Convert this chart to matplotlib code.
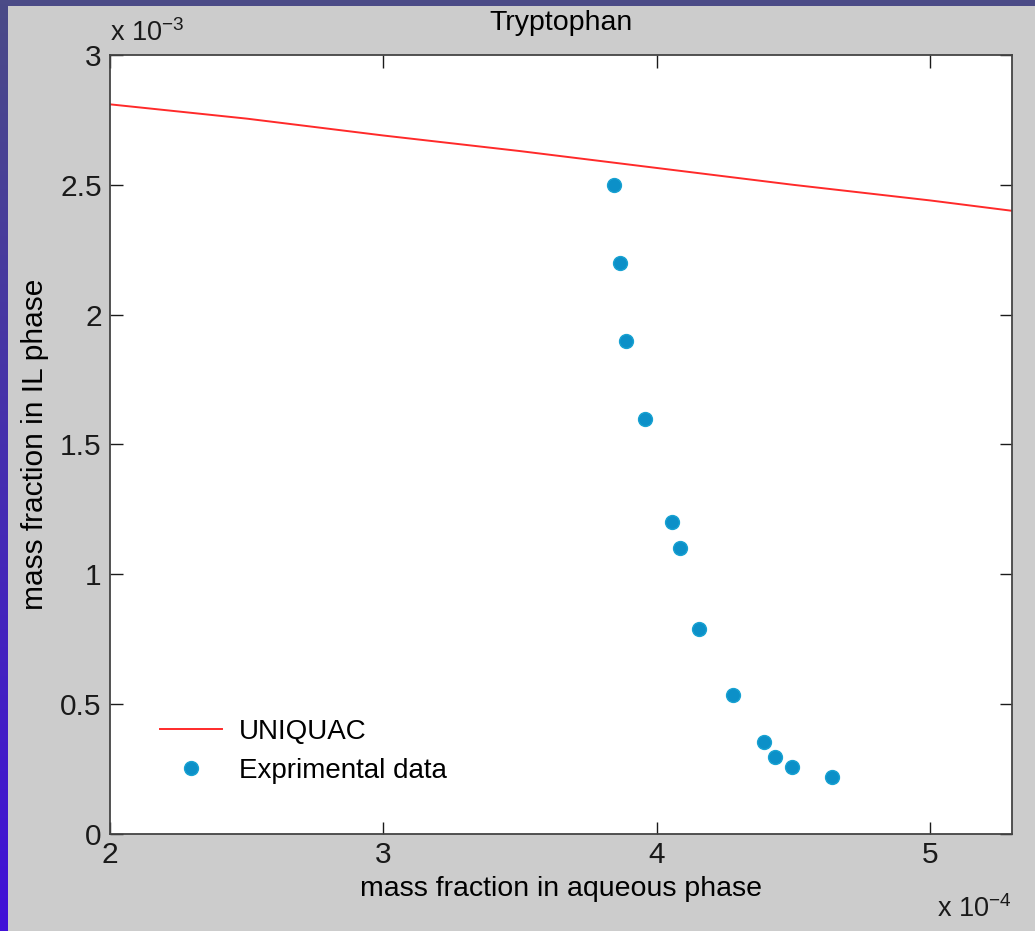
import numpy as np
import matplotlib.pyplot as plt
from matplotlib.ticker import FuncFormatter, MultipleLocator

# UNIQUAC model curve (mass fractions)
uniquac_x = [2.0e-4, 2.5e-4, 3.0e-4, 3.5e-4, 4.0e-4, 4.5e-4, 5.0e-4, 5.3e-4]
uniquac_y = [2.81e-3, 2.755e-3, 2.69e-3, 2.63e-3, 2.565e-3, 2.50e-3, 2.44e-3, 2.40e-3]

# experimental points
exp_x = [3.844e-4, 3.866e-4, 3.888e-4, 3.958e-4, 4.056e-4, 4.086e-4,
         4.155e-4, 4.280e-4, 4.393e-4, 4.433e-4, 4.495e-4, 4.642e-4]
exp_y = [2.50e-3, 2.20e-3, 1.90e-3, 1.60e-3, 1.20e-3, 1.10e-3,
         0.79e-3, 0.535e-3, 0.355e-3, 0.296e-3, 0.258e-3, 0.219e-3]

plt.rcParams['font.family'] = ['Liberation Sans', 'DejaVu Sans']

fig = plt.figure(figsize=(10.35, 9.31), dpi=100)
fig.patch.set_facecolor('#cccccc')

# slide border: dark band on top, gradient band on the left
W, H = 1035, 931
top = fig.add_axes([0, 1 - 6 / H, 1, 6 / H])
top.set_facecolor('#4b4b87')
top.set_xticks([]); top.set_yticks([])
for s in top.spines.values():
    s.set_visible(False)
left = fig.add_axes([0, 0, 8 / W, 1])
grad = np.linspace(0, 1, 256)[:, None]
c0 = np.array([0x4b, 0x4b, 0x87]) / 255
c1 = np.array([0x40, 0x10, 0xd8]) / 255
left.imshow(c0 + (c1 - c0) * grad[:, :, None], aspect='auto', origin='upper')
left.set_xticks([]); left.set_yticks([])
for s in left.spines.values():
    s.set_visible(False)

ax = fig.add_axes([110 / W, 1 - 834 / H, (1012 - 110) / W, (834 - 55) / H])
ax.set_facecolor('white')

ax.plot(uniquac_x, uniquac_y, color='#ff2a2a', lw=1.4, label='UNIQUAC')
ax.plot(exp_x, exp_y, 'o', color='#0c90c8', ms=10, mec='#18a2d2', mew=1,
        label='Exprimental data')

ax.set_xlim(2e-4, 5.3e-4)
ax.set_ylim(0, 3e-3)
ax.xaxis.set_major_locator(MultipleLocator(1e-4))
ax.yaxis.set_major_locator(MultipleLocator(0.5e-3))
ax.xaxis.set_major_formatter(FuncFormatter(lambda v, p: '%g' % round(v * 1e4, 3)))
ax.yaxis.set_major_formatter(FuncFormatter(lambda v, p: '%g' % round(v * 1e3, 3)))
ax.tick_params(direction='in', length=9, width=1, top=True, right=True,
               labelsize=21.5, colors='#1a1a1a')
ax.tick_params(axis='x', pad=5)
ax.tick_params(axis='y', pad=6)
for s in ax.spines.values():
    s.set_color('#444444')
    s.set_linewidth(1.3)

ax.set_xlabel('mass fraction in aqueous phase', fontsize=20.5, labelpad=5)
ax.set_ylabel('mass fraction in IL phase', fontsize=21.5, labelpad=8)
ax.set_title('Tryptophan', fontsize=20.5, pad=18)

ax.text(0.0, 1.01, r'x 10$^{\mathregular{-3}}$', transform=ax.transAxes,
        fontsize=19.5, ha='left', va='bottom', color='#1a1a1a')
ax.text(0.9995, -0.078, r'x 10$^{\mathregular{-4}}$', transform=ax.transAxes,
        fontsize=19.5, ha='right', va='top', color='#1a1a1a')

ax.legend(loc='center left', bbox_to_anchor=(0.043, 0.106), frameon=False,
          fontsize=20, handlelength=2.23, handletextpad=0.6, labelspacing=0.48,
          borderpad=0.4, borderaxespad=0)

fig.savefig('out.png', dpi=100, facecolor=fig.get_facecolor())
